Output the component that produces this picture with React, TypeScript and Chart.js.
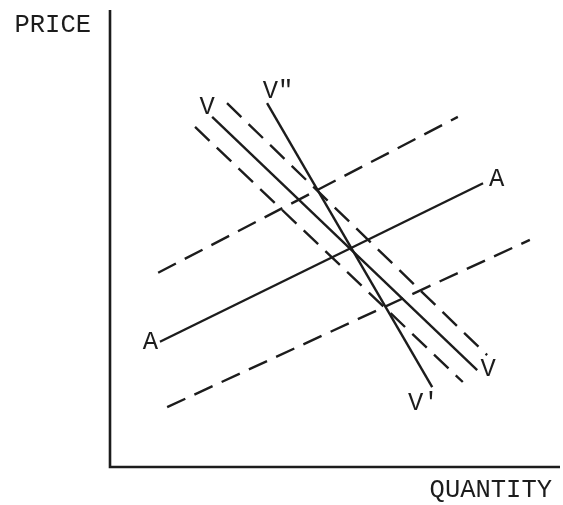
import React, { useEffect, useRef } from "react";
import { Chart, registerables } from "chart.js";

Chart.register(...registerables);

// Axis extents (data units)
const axisX = [0, 100];
const axisY = [0, 100];

// Curves: [x, y] endpoints
const aSolid = [{ x: 11.1, y: 27.4 }, { x: 82.9, y: 62.1 }];
const aUpperDashed = [{ x: 10.7, y: 42.5 }, { x: 77.3, y: 76.6 }];
const aLowerDashed = [{ x: 12.7, y: 13.1 }, { x: 93.3, y: 49.7 }];
const vSolid = [{ x: 22.7, y: 76.6 }, { x: 81.6, y: 21.2 }];
const vRightDashed = [{ x: 26.0, y: 79.6 }, { x: 83.8, y: 24.5 }];
const vLeftDashed = [{ x: 18.9, y: 74.4 }, { x: 78.4, y: 18.6 }];
const vSteep = [{ x: 34.9, y: 79.6 }, { x: 71.6, y: 17.5 }];

const axisLabels = { y: "PRICE", x: "QUANTITY" };
const curveLabels = { a: "A", v: "V", vTop: 'V"', vBottom: "V'" };

const INK = "#1c1c1c";
const FONT = "25.5px 'Liberation Mono', 'DejaVu Sans Mono', monospace";

const labelPlugin = {
  id: "curveLabels",
  afterDatasetsDraw(chart: any) {
    const { ctx, scales } = chart;
    const xs = scales.x;
    const ys = scales.y;
    const px = (p: { x: number; y: number }) => [xs.getPixelForValue(p.x), ys.getPixelForValue(p.y)];
    ctx.save();
    ctx.fillStyle = INK;
    ctx.font = FONT;
    ctx.textBaseline = "middle";
    const put = (t: string, p: { x: number; y: number }, dx: number, dy: number, align: string) => {
      const [x, y] = px(p);
      ctx.textAlign = align;
      ctx.fillText(t, x + dx, y + dy);
    };
    put(curveLabels.a, aSolid[0], -2, 0, "right");
    put(curveLabels.a, aSolid[1], 6, -4, "left");
    put(curveLabels.v, vSolid[0], -5, -10, "center");
    put(curveLabels.v, vSolid[1], 11, -1, "center");
    put(curveLabels.vTop, vSteep[0], 11, -12, "center");
    put(curveLabels.vBottom, vSteep[1], -9, 16, "center");
    // axis titles
    const [ox, oy] = px({ x: axisX[0], y: axisY[0] });
    const [, topY] = px({ x: axisX[0], y: axisY[1] });
    const [rightX] = px({ x: axisX[1], y: axisY[0] });
    ctx.textAlign = "right";
    ctx.fillText(axisLabels.y, ox - 19, topY + 15);
    ctx.textAlign = "right";
    ctx.fillText(axisLabels.x, rightX - 8, oy + 23);
    ctx.restore();
  },
};

export default function App() {
  const ref = useRef<HTMLCanvasElement | null>(null);
  useEffect(() => {
    if (!ref.current) return;
    const solid = (data: any[], w = 2.4) => ({
      data,
      showLine: true,
      borderColor: INK,
      borderWidth: w,
      pointRadius: 0,
      clip: false,
      borderCapStyle: "butt",
    });
    const dashed = (data: any[]) => ({ ...solid(data), borderDash: [20, 10] });
    const chart = new Chart(ref.current, {
      type: "scatter",
      data: {
        datasets: [
          solid([{ x: axisX[0], y: axisY[1] }, { x: axisX[0], y: axisY[0] }, { x: axisX[1], y: axisY[0] }], 2.6),
          solid(aSolid),
          dashed(aUpperDashed),
          dashed(aLowerDashed),
          solid(vSolid),
          dashed(vRightDashed),
          dashed(vLeftDashed),
          solid(vSteep),
        ] as any,
      },
      options: {
        animation: false,
        responsive: false,
        devicePixelRatio: 1,
        layout: { padding: { left: 110, top: 10, right: 3, bottom: 38 } },
        plugins: { legend: { display: false }, tooltip: { enabled: false } },
        scales: {
          x: { type: "linear", min: axisX[0], max: axisX[1], display: false },
          y: { type: "linear", min: axisY[0], max: axisY[1], display: false },
        },
      },
      plugins: [labelPlugin],
    });
    return () => chart.destroy();
  }, []);
  return (
    <div style={{ position: "fixed", left: 0, top: 0, width: 563, height: 505, background: "#fff" }}>
      <canvas ref={ref} width={563} height={505} style={{ width: 563, height: 505, display: "block" }} />
    </div>
  );
}
